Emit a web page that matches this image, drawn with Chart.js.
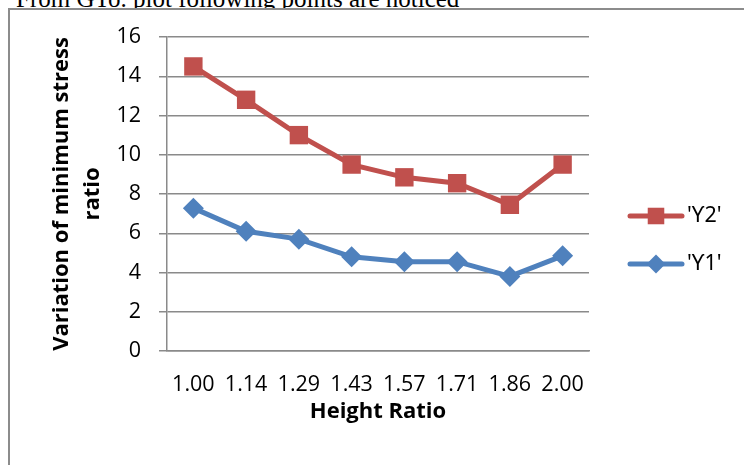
<!DOCTYPE html>
<html>
<head>
<meta charset="utf-8">
<script src="https://cdn.jsdelivr.net/npm/chart.js@4/dist/chart.umd.min.js"></script>
<style>
  html, body { margin: 0; padding: 0; background: #fff; }
  #wrap { position: relative; width: 744px; height: 465px; overflow: hidden; }
  #topText { position: absolute; left: 16px; top: -13px; font-family: "Liberation Serif", serif; font-size: 25px; line-height: 24px; color: #000; white-space: nowrap; }
  #frame { position: absolute; left: 8px; top: 8px; width: 800px; height: 500px; border-left: 2px solid #8c8c8c; border-top: 2px solid #8c8c8c; background: #fff; }
  #c { position: absolute; left: 0; top: 0; }
</style>
</head>
<body>
<div id="wrap">
  <div id="topText">From GTo. plot following points are noticed</div>
  <div id="frame"></div>
  <canvas id="c" width="744" height="465"></canvas>
</div>
<script>
const categories = ["1.00", "1.14", "1.29", "1.43", "1.57", "1.71", "1.86", "2.00"];
const seriesY2 = [14.5, 12.8, 11.0, 9.5, 8.85, 8.55, 7.45, 9.5];
const seriesY1 = [7.28, 6.1, 5.7, 4.8, 4.55, 4.55, 3.8, 4.85];
const seriesNames = ["'ϒ2'", "'ϒ1'"];
const yTitle = ["Variation of minimum stress", "ratio"];
const xTitle = "Height Ratio";

const RED = "#C0504D";
const BLUE = "#4F81BD";
const GRID = "#8a8a8a";
const FONT = "'Open Sans'";

const legendPlugin = {
  id: "sideLegend",
  afterDraw(chart) {
    const ctx = chart.ctx;
    const ys = [216, 264];
    chart.data.datasets.forEach((ds, i) => {
      const y = ys[i];
      ctx.save();
      ctx.strokeStyle = ds.borderColor;
      ctx.lineWidth = 5;
      ctx.lineCap = "round";
      ctx.beginPath();
      ctx.moveTo(630, y);
      ctx.lineTo(682, y);
      ctx.stroke();
      ctx.fillStyle = ds.pointBackgroundColor;
      ctx.strokeStyle = ds.pointBorderColor;
      Chart.helpers.drawPoint(ctx, { pointStyle: ds.pointStyle, radius: ds.pointRadius * 0.9, rotation: 0, borderWidth: 0 }, 656, y);
      ctx.fillStyle = "#000";
      ctx.font = "21.5px 'Noto Sans', 'Open Sans'";
      ctx.textBaseline = "middle";
      ctx.textAlign = "left";
      ctx.fillText(ds.label, 687, y);
      ctx.restore();
    });
  }
};

new Chart(document.getElementById("c"), {
  type: "line",
  data: {
    labels: categories,
    datasets: [
      {
        label: seriesNames[0],
        data: seriesY2,
        borderColor: RED,
        backgroundColor: RED,
        pointBackgroundColor: RED,
        pointBorderColor: RED,
        borderWidth: 5,
        pointStyle: "rect",
        pointRadius: 13,
        pointBorderWidth: 0,
        tension: 0
      },
      {
        label: seriesNames[1],
        data: seriesY1,
        borderColor: BLUE,
        backgroundColor: BLUE,
        pointBackgroundColor: BLUE,
        pointBorderColor: BLUE,
        borderWidth: 5,
        pointStyle: "rectRot",
        pointRadius: 10.5,
        pointBorderWidth: 0,
        tension: 0
      }
    ]
  },
  options: {
    responsive: false,
    animation: false,
    devicePixelRatio: 1,
    layout: { padding: { left: 10, top: 37, right: 155, bottom: 0 } },
    plugins: {
      legend: { display: false },
      tooltip: { enabled: false },
      title: { display: false }
    },
    scales: {
      x: {
        offset: true,
        grid: { display: false, drawTicks: false },
        border: { display: true, color: GRID, width: 1.5 },
        ticks: {
          color: "#000",
          font: { family: FONT, size: 21.5 },
          padding: 21,
          maxRotation: 0,
          autoSkip: false
        },
        title: {
          display: true,
          text: xTitle,
          color: "#000",
          font: { family: FONT, size: 22, weight: "bold" },
          padding: { top: 0, bottom: 40 }
        },
        afterFit(scale) { scale.height = 114; }
      },
      y: {
        min: 0,
        max: 16,
        ticks: {
          stepSize: 2,
          color: "#000",
          font: { family: FONT, size: 21.5 },
          padding: 18
        },
        grid: { color: GRID, lineWidth: 1.5, tickLength: 8 },
        border: { display: true, color: GRID, width: 1.5 },
        title: {
          display: true,
          text: yTitle,
          color: "#000",
          font: { family: FONT, size: 22, weight: "bold", lineHeight: 1.41 },
          padding: { top: 36, bottom: 0 }
        },
        afterFit(scale) { scale.width = 157; }
      }
    }
  },
  plugins: [legendPlugin]
});
</script>
</body>
</html>
